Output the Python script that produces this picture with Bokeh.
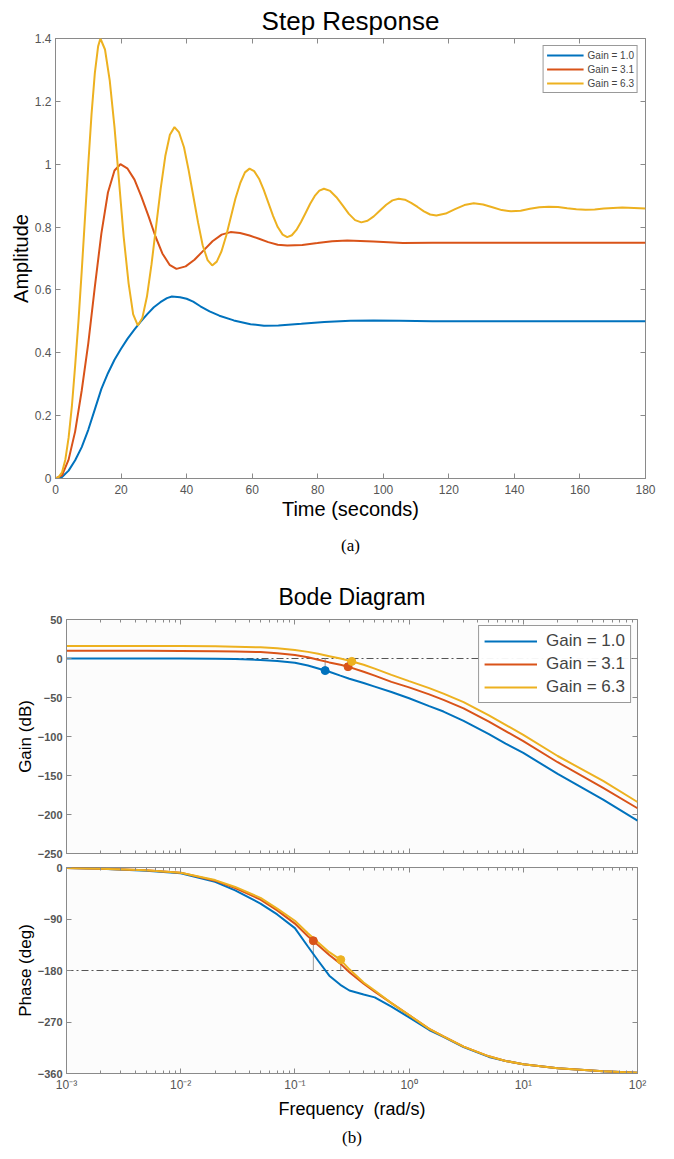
from bokeh.plotting import figure
from bokeh.layouts import column
from bokeh.models import (Range1d, LinearAxis, LogAxis, FixedTicker,
                          CustomJSTickFormatter, Title, Span)
from bokeh.embed import file_html
from bokeh.resources import INLINE

# ---------------- data ----------------
series_labels = ["Gain = 1.0", "Gain = 3.1", "Gain = 6.3"]
series_colors = ["#0072BD", "#D95319", "#EDB120"]

# Step response (time in seconds, amplitude)
t_blue = [0, 2, 4, 6, 8, 10, 12, 14, 16, 18, 20, 22, 24, 26, 28, 30, 32, 34, 35.5, 38, 40, 42, 44.2,
          47, 50, 54.4, 59.5, 63.6, 68, 75, 82, 90, 97, 105, 115, 130, 150, 180]
y_blue = [0, 0.005, 0.025, 0.058, 0.1, 0.155, 0.22, 0.285, 0.335, 0.378, 0.413, 0.445, 0.473, 0.499,
          0.523, 0.545, 0.561, 0.574, 0.579, 0.577, 0.572, 0.563, 0.548, 0.532, 0.518, 0.503, 0.491,
          0.486, 0.487, 0.492, 0.498, 0.502, 0.503, 0.502, 0.5, 0.5, 0.5, 0.5]

t_red = [0, 2, 4, 6, 8, 10, 12, 14, 16, 18, 19.8, 21.9, 24.1, 26.2, 28.4, 30.5, 32.6, 34.8, 36.9,
         39.7, 42.4, 45.2, 47.9, 50.7, 53.4, 56.3, 59.2, 62.1, 64.9, 67.8, 70.7, 75.3, 79.9, 84.4, 89,
         97, 106, 115, 130, 150, 180]
y_red = [0, 0.01, 0.06, 0.15, 0.28, 0.43, 0.61, 0.78, 0.91, 0.98, 1.0, 0.987, 0.951, 0.897, 0.834,
         0.77, 0.716, 0.68, 0.667, 0.675, 0.696, 0.726, 0.755, 0.776, 0.784, 0.781, 0.773, 0.763,
         0.752, 0.744, 0.741, 0.743, 0.749, 0.755, 0.757, 0.754, 0.749, 0.75, 0.75, 0.75, 0.75]

t_yel = [0, 1, 2, 3, 4, 5, 6, 7, 8, 9, 10, 11, 12, 13, 13.7, 15.1, 16.55, 18.0, 19.4, 20.8, 22.3,
         23.7, 25.1, 26.5, 27.9, 29.3, 30.7, 32.1, 33.5, 34.9, 36.3, 37.7, 39.2, 40.6, 42.05, 43.5,
         44.9, 46.4, 47.8, 49.2, 50.65, 52.1, 53.5, 54.9, 56.4, 57.8, 59.2, 60.6, 62.1, 63.5, 64.95,
         66.4, 67.8, 69.3, 70.7, 72.1, 73.5, 74.9, 76.3, 77.7, 79.1, 80.5, 81.9, 83.8, 85.7, 87.6,
         89.5, 91.4, 93.3, 95.2, 97.1, 99.0, 100.9, 102.8, 104.7, 106.6, 108.5, 110.45, 112.4, 114.3,
         116.2, 119.05, 121.9, 124.75, 127.6, 130.45, 133.3, 136.15, 139.0, 141.9, 144.75, 147.6,
         150.5, 153.3, 156.1, 158.9, 161.7, 164.5, 167.3, 170.1, 172.9, 176.5, 180]
y_yel = [0, 0.005, 0.02, 0.06, 0.13, 0.23, 0.36, 0.5, 0.66, 0.83, 1.0, 1.16, 1.29, 1.375, 1.4, 1.365,
         1.266, 1.118, 0.944, 0.769, 0.621, 0.522, 0.487, 0.511, 0.579, 0.682, 0.803, 0.923, 1.026,
         1.094, 1.118, 1.101, 1.054, 0.982, 0.898, 0.814, 0.742, 0.695, 0.678, 0.690, 0.723, 0.773,
         0.832, 0.891, 0.941, 0.974, 0.986, 0.978, 0.954, 0.919, 0.877, 0.835, 0.800, 0.776, 0.768,
         0.774, 0.791, 0.816, 0.845, 0.874, 0.899, 0.916, 0.922, 0.915, 0.895, 0.869, 0.842, 0.822,
         0.815, 0.820, 0.834, 0.853, 0.871, 0.885, 0.890, 0.887, 0.877, 0.864, 0.850, 0.840, 0.837,
         0.843, 0.857, 0.870, 0.876, 0.872, 0.863, 0.854, 0.850, 0.852, 0.858, 0.863, 0.865, 0.864,
         0.860, 0.857, 0.855, 0.856, 0.859, 0.861, 0.862, 0.861, 0.859]

step_xticks = [0, 20, 40, 60, 80, 100, 120, 140, 160, 180]
step_yticks = [0, 0.2, 0.4, 0.6, 0.8, 1.0, 1.2, 1.4]

# Bode (frequency rad/s, gain dB, phase deg)
freq = [0.001, 0.002, 0.005, 0.01, 0.02, 0.03, 0.05, 0.07, 0.1, 0.13, 0.16, 0.2, 0.25, 0.3, 0.4,
        0.5, 0.7, 1, 1.5, 2, 3, 5, 7, 10, 20, 50, 100]
mag_blue = [0, 0, 0, -0.1, -0.4, -0.8, -1.8, -3.2, -5.5, -9, -12.8, -17, -22, -26, -31.5, -36, -43,
            -51, -61, -68, -80, -97, -109, -121, -148, -181, -208]
mag_red = [9.8, 9.8, 9.8, 9.7, 9.4, 9.1, 8.2, 6.8, 4.5, 1.5, -1.5, -5, -8, -11, -17, -22, -30, -37,
           -46, -53, -64, -81, -93, -106, -133, -166, -192]
mag_yel = [16, 16, 16, 15.9, 15.6, 15.2, 14.3, 13, 10.8, 8.5, 6, 3, 0, -2.8, -8, -13, -21, -29, -38,
           -45, -56, -73, -85, -98, -125, -157, -184]
ph_blue = [-1, -2, -5.5, -10, -25, -40, -63, -82, -106, -138, -163, -189, -205, -215, -222, -227,
           -243, -262, -284, -296, -314, -331, -338, -344, -351, -356, -358.5]
ph_red = [-1, -2, -5, -9, -23, -36, -56, -75, -98, -120, -136, -153, -168, -183, -203, -217, -237,
          -258, -282, -295, -313, -330, -338, -344, -351, -356, -358.5]
ph_yel = [-1, -2, -5, -9, -22, -34, -53, -72, -93, -115, -131, -148, -161, -178, -201, -215, -237,
          -258, -282, -295, -313, -330, -338, -344, -351, -356, -358.5]

# gain-margin points (phase crossover) and phase-margin points (gain crossover)
gm_freq = [0.184, 0.292, 0.315]
gm_mag = [-15.5, -10.5, -3.7]
gm_colors = ["#0072BD", "#D95319", "#EDB120"]
pm_freq = [0.145, 0.252]
pm_phase = [-128.0, -161.0]
pm_colors = ["#D95319", "#EDB120"]

mag_ticks = [-250, -200, -150, -100, -50, 0, 50]
phase_ticks = [-360, -270, -180, -90, 0]
decades = [1e-3, 1e-2, 1e-1, 1e0, 1e1, 1e2]

# ---------------- styling helpers ----------------
SANS = "Liberation Sans"
SERIF = "Liberation Serif"
AX = "#8a8a8a"

blank_fmt = CustomJSTickFormatter(code="return '';")


def style_axis(ax, labels=True, size="11px", label_size="18px"):
    ax.major_tick_in = 5
    ax.major_tick_out = 0
    ax.minor_tick_in = 3
    ax.minor_tick_out = 0
    ax.axis_line_color = AX
    ax.major_tick_line_color = AX
    ax.minor_tick_line_color = AX
    ax.major_label_text_font = SANS
    ax.major_label_text_color = "#555555"
    ax.axis_label_text_font = SANS
    ax.axis_label_text_font_style = "normal"
    ax.axis_label_text_color = "black"
    ax.axis_label_text_font_size = label_size
    if labels:
        ax.major_label_text_font_size = size
        ax.major_label_standoff = 4
    else:
        ax.formatter = blank_fmt
        ax.major_label_text_font_size = "1px"
        ax.major_label_standoff = 0


def style_title(p, size, standoff):
    p.title.align = "center"
    p.title.text_font = SANS
    p.title.text_font_style = "normal"
    p.title.text_font_size = size
    p.title.text_color = "black"
    p.title.standoff = standoff


one_dec = CustomJSTickFormatter(code="return (Math.round(tick*10)/10).toString();")
sup_fmt = CustomJSTickFormatter(code="""
const e = Math.round(Math.log10(tick));
const m = {'-':'\u207b','0':'\u2070','1':'\u00b9','2':'\u00b2','3':'\u00b3','4':'\u2074','5':'\u2075'};
return '10' + String(e).split('').map(c => m[c]).join('');
""")

# ---------------- Step response ----------------
p1 = figure(width=674, height=568, x_range=Range1d(0, 180), y_range=Range1d(0, 1.4),
            output_backend="svg", toolbar_location=None,
            min_border_left=55, min_border_right=29, min_border_top=38, min_border_bottom=90)
p1.title.text = "Step Response"
style_title(p1, "26px", 6)
p1.grid.visible = False
p1.outline_line_color = AX

p1.xaxis.ticker = FixedTicker(ticks=step_xticks, minor_ticks=[])
p1.yaxis.ticker = FixedTicker(ticks=step_yticks, minor_ticks=[])
p1.yaxis.formatter = one_dec
p1.xaxis.axis_label = "Time (seconds)"
p1.yaxis.axis_label = "Amplitude"
style_axis(p1.xaxis[0], True, "12px", "20px")
style_axis(p1.yaxis[0], True, "12px", "20px")
p1.xaxis.major_label_standoff = 6
p1.xaxis.axis_label_standoff = 1
p1.yaxis.axis_label_standoff = 0
p1.yaxis.major_label_standoff = 4

top1 = LinearAxis(ticker=FixedTicker(ticks=step_xticks, minor_ticks=[]))
style_axis(top1, False)
top1.axis_line_color = None
p1.add_layout(top1, "above")
right1 = LinearAxis(ticker=FixedTicker(ticks=step_yticks, minor_ticks=[]))
style_axis(right1, False)
right1.axis_line_color = None
p1.add_layout(right1, "right")

for t, y, lab, col in zip([t_blue, t_red, t_yel], [y_blue, y_red, y_yel], series_labels, series_colors):
    p1.line(t, y, line_color=col, line_width=2, legend_label=lab)

lg = p1.legend[0]
lg.location = "top_right"
lg.margin = 7
lg.padding = 3
lg.spacing = 2
lg.label_text_font = SANS
lg.label_text_font_size = "10px"
lg.label_height = 12
lg.glyph_height = 12
lg.glyph_width = 37
lg.label_standoff = 4
lg.border_line_color = "#333333"
lg.border_line_width = 1
lg.background_fill_alpha = 1

p1.add_layout(Title(text="(a)", align="center", text_font=SERIF, text_font_size="17px",
                    text_font_style="normal", text_color="black", standoff=22), "below")

# ---------------- Bode magnitude ----------------
BG = "#fcfcfc"
p2 = figure(width=674, height=292, x_axis_type="log", x_range=Range1d(1e-3, 1e2),
            y_range=Range1d(-250, 50), output_backend="svg", toolbar_location=None,
            min_border_left=66, min_border_right=37, min_border_top=51, min_border_bottom=7,
            background_fill_color=BG)
p2.title.text = "Bode Diagram"
style_title(p2, "23px", 19)
p2.grid.visible = False
p2.outline_line_color = AX

minor_log = [m * d for d in decades[:-1] for m in range(2, 10)]
p2.xaxis.ticker = FixedTicker(ticks=decades, minor_ticks=minor_log)
style_axis(p2.xaxis[0], False)
p2.yaxis.ticker = FixedTicker(ticks=mag_ticks, minor_ticks=[])
p2.yaxis.axis_label = "Gain (dB)"
style_axis(p2.yaxis[0], True, "11px", "17px")
p2.yaxis.major_label_text_font_style = "bold"
p2.yaxis.axis_label_standoff = 0

top2 = LogAxis(ticker=FixedTicker(ticks=decades, minor_ticks=minor_log))
style_axis(top2, False)
top2.axis_line_color = None
p2.add_layout(top2, "above")
right2 = LinearAxis(ticker=FixedTicker(ticks=mag_ticks, minor_ticks=[]))
style_axis(right2, False)
right2.axis_line_color = None
p2.add_layout(right2, "right")

p2.add_layout(Span(location=0, dimension="width", line_color="#555555", line_width=1,
                   line_dash="7 3 2 3", level="underlay"))
p2.segment(x0=gm_freq, y0=gm_mag, x1=gm_freq, y1=[0] * len(gm_freq), line_color="#9a9a9a",
           line_width=1)
for y, lab, col in zip([mag_blue, mag_red, mag_yel], series_labels, series_colors):
    p2.line(freq, y, line_color=col, line_width=2, legend_label=lab)
p2.scatter(gm_freq, gm_mag, size=8, color=gm_colors)

lg2 = p2.legend[0]
lg2.location = "top_right"
lg2.margin = 6
lg2.padding = 5
lg2.spacing = 3
lg2.label_text_font = SANS
lg2.label_text_font_size = "17px"
lg2.label_height = 18
lg2.glyph_height = 18
lg2.glyph_width = 53
lg2.label_standoff = 9
lg2.border_line_color = "#333333"
lg2.background_fill_color = "white"

# ---------------- Bode phase ----------------
p3 = figure(width=674, height=299, x_axis_type="log", x_range=p2.x_range,
            y_range=Range1d(-360, 0), output_backend="svg", toolbar_location=None,
            min_border_left=66, min_border_right=37, min_border_top=7, min_border_bottom=86,
            background_fill_color=BG)
p3.grid.visible = False
p3.outline_line_color = AX
p3.xaxis.ticker = FixedTicker(ticks=decades, minor_ticks=minor_log)
p3.xaxis.formatter = sup_fmt
p3.xaxis.axis_label = "Frequency\u00a0\u00a0(rad/s)"
style_axis(p3.xaxis[0], True, "12px", "18px")
p3.xaxis.axis_label_standoff = 4
p3.yaxis.ticker = FixedTicker(ticks=phase_ticks, minor_ticks=[])
p3.yaxis.axis_label = "Phase (deg)"
style_axis(p3.yaxis[0], True, "11px", "17px")
p3.yaxis.major_label_text_font_style = "bold"
p3.yaxis.axis_label_standoff = 0

top3 = LogAxis(ticker=FixedTicker(ticks=decades, minor_ticks=minor_log))
style_axis(top3, False)
top3.axis_line_color = None
p3.add_layout(top3, "above")
right3 = LinearAxis(ticker=FixedTicker(ticks=phase_ticks, minor_ticks=[]))
style_axis(right3, False)
right3.axis_line_color = None
p3.add_layout(right3, "right")

p3.add_layout(Span(location=-180, dimension="width", line_color="#555555", line_width=1,
                   line_dash="7 3 2 3", level="underlay"))
p3.segment(x0=pm_freq, y0=pm_phase, x1=pm_freq, y1=[-180] * len(pm_freq), line_color="#9a9a9a",
           line_width=1)
for y, col in zip([ph_blue, ph_red, ph_yel], series_colors):
    p3.line(freq, y, line_color=col, line_width=2)
p3.scatter(pm_freq, pm_phase, size=8, color=pm_colors)

p3.add_layout(Title(text="(b)", align="center", text_font=SERIF, text_font_size="17px",
                    text_font_style="normal", text_color="black", standoff=8), "below")

bode = column(p2, p3, spacing=0)
open("out.html", "w").write(file_html([p1, bode], INLINE, title="Step Response and Bode Diagram"))
